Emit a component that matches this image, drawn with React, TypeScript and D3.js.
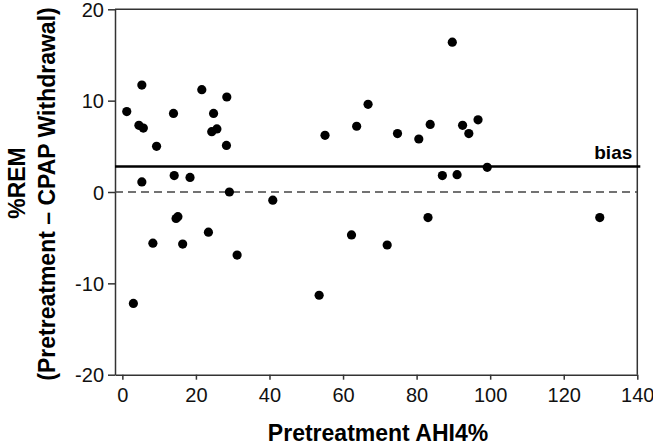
import React, { useEffect, useRef } from 'react'
import * as d3 from 'd3'

// pretreatment AHI4% (x) and %REM difference (y)
const ahi = [1.2, 5.3, 4.5, 5.7, 9.3, 5.3, 13.9, 14.1, 18.4, 15.1, 14.6, 21.6, 24.8, 28.4, 24.3, 25.7, 28.3, 29.1,
    40.9, 55.1, 23.4, 8.3, 16.4, 31.2, 3.0, 53.5, 63.7, 66.8, 74.8, 80.6, 83.7, 89.7, 92.5, 94.2, 96.7, 87.0,
    91.0, 99.2, 83.1, 129.8, 62.3, 72.0]
const remDiff = [8.8, 11.7, 7.3, 7.0, 5.0, 1.1, 8.6, 1.8, 1.6, -2.7, -2.9, 11.2, 8.6, 10.4, 6.6, 6.9, 5.1, 0.0,
    -0.9, 6.2, -4.4, -5.6, -5.7, -6.9, -12.2, -11.3, 7.2, 9.6, 6.4, 5.8, 7.4, 16.4, 7.3, 6.4, 7.9, 1.8,
    1.9, 2.7, -2.8, -2.8, -4.7, -5.8]
const bias = 2.8

const xTicks = [0, 20, 40, 60, 80, 100, 120, 140]
const yTicks = [-20, -10, 0, 10, 20]

const W = 653
const H = 446

const App = () => {
    const ref = useRef<SVGSVGElement>(null)

    useEffect(() => {
        const svg = d3.select(ref.current)
        svg.selectAll('*').remove()

        const left = 115, right = 637.3, top = 9.3, bottom = 374.7
        const font = '"Liberation Sans", Arial, sans-serif'
        const ink = '#333'

        const x = d3.scaleLinear().domain([-2, 140]).range([left, right])
        const y = d3.scaleLinear().domain([-20, 20]).range([bottom, top])

        // frame (top + right)
        svg.append('path')
            .attr('d', `M${left},${top}H${right}V${bottom}`)
            .attr('fill', 'none')
            .attr('stroke', ink)
            .attr('stroke-width', 1.5)

        const yAxis = svg.append('g')
            .attr('transform', `translate(${left},0)`)
            .call(d3.axisLeft(y).tickValues(yTicks).tickSize(7).tickSizeOuter(0).tickPadding(4).tickFormat(d => String(d)))
        const xAxis = svg.append('g')
            .attr('transform', `translate(0,${bottom})`)
            .call(d3.axisBottom(x).tickValues(xTicks).tickSize(5).tickSizeOuter(0).tickPadding(8).tickFormat(d => String(d)))

        for (const g of [xAxis, yAxis]) {
            g.select('.domain').attr('stroke', ink).attr('stroke-width', 1.5)
            g.selectAll('.tick line').attr('stroke', ink).attr('stroke-width', 1.5)
            g.selectAll('.tick text')
                .attr('fill', '#111')
                .style('font-family', font)
                .style('font-size', '20px')
        }
        yAxis.selectAll('.tick text').attr('dy', '0.36em')

        // zero reference line
        svg.append('line')
            .attr('x1', left).attr('x2', right)
            .attr('y1', y(0)).attr('y2', y(0))
            .attr('stroke', '#444')
            .attr('stroke-width', 1.3)
            .attr('stroke-dasharray', '8,5')

        // bias line
        svg.append('line')
            .attr('x1', left).attr('x2', right + 3)
            .attr('y1', y(bias)).attr('y2', y(bias))
            .attr('stroke', '#000')
            .attr('stroke-width', 2.5)

        svg.append('text')
            .attr('x', right - 5)
            .attr('y', y(bias) - 7)
            .attr('text-anchor', 'end')
            .style('font-family', font)
            .style('font-weight', 'bold')
            .style('font-size', '19px')
            .text('bias')

        svg.append('g')
            .selectAll('circle')
            .data(ahi)
            .enter().append('circle')
            .attr('cx', d => x(d))
            .attr('cy', (d, i) => y(remDiff[i]))
            .attr('r', 4.6)
            .attr('fill', '#000')

        // X label
        svg.append('text')
            .attr('x', 378)
            .attr('y', 441)
            .attr('text-anchor', 'middle')
            .style('font-family', font)
            .style('font-weight', 'bold')
            .style('font-size', '23px')
            .text('Pretreatment AHI4%')

        // Y label, two lines
        const yl = svg.append('text')
            .attr('transform', 'rotate(-90)')
            .attr('text-anchor', 'middle')
            .style('font-family', font)
            .style('font-weight', 'bold')
            .style('font-size', '23px')
        yl.append('tspan').attr('x', -183).attr('y', 25).text('%REM')
        yl.append('tspan').attr('x', -194).attr('y', 55).text('(Pretreatment \u2013 CPAP Withdrawal)')
    }, [])

    return (
        <svg ref={ref} width={W} height={H}
            style={{ position: 'absolute', left: 0, top: 0, background: '#fff' }} />
    )
}
export default App
